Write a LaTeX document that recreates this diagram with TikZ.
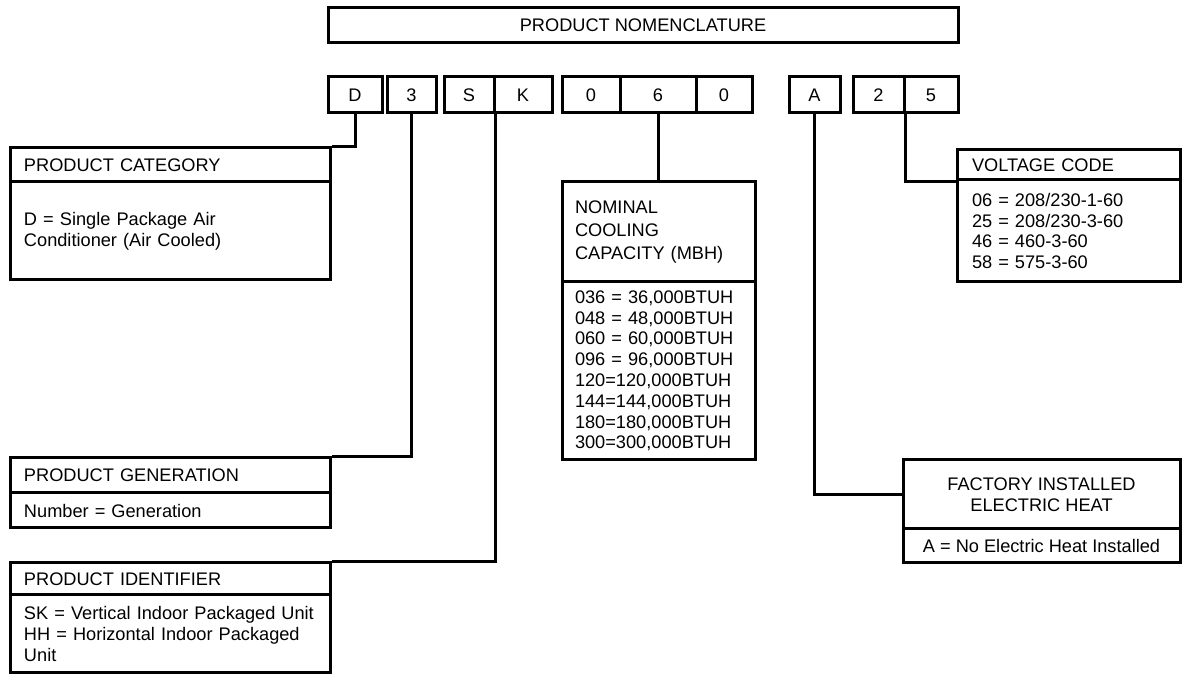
\documentclass[tikz,border=0pt]{standalone}
\usepackage{fontspec}
\setmainfont{Liberation Sans}
\begin{document}
\begin{tikzpicture}[x=0.5pt,y=-0.5pt,line width=1.5pt]
\tikzstyle{every node}=[draw, rectangle, inner sep=0pt, font=\fontsize{9.1}{10.4}\selectfont]
\tikzstyle{digit}=[minimum height=18pt]
\tikzstyle{leftbox}=[align=left]
\useasboundingbox (0,0) rectangle (1185,683);
% title
\draw (643,25.5) node (title) [minimum width=315pt, minimum height=17.5pt] {PRODUCT NOMENCLATURE};
% code letters
\draw (355,95) node (D) [digit, minimum width=27pt] {D};
\draw (411.5,95) node (three) [digit, minimum width=24.5pt] {3};
\draw (469,95) node (S) [digit, minimum width=25pt] {S};
\draw (523,95) node (K) [digit, minimum width=29pt] {K};
\draw (591,95) node (zeroa) [digit, minimum width=29pt] {0};
\draw (658,95) node (six) [digit, minimum width=38pt] {6};
\draw (724,95) node (zerob) [digit, minimum width=28pt] {0};
\draw (814.5,95) node (A) [digit, minimum width=25.5pt] {A};
\draw (878.5,95) node (two) [digit, minimum width=25.5pt] {2};
\draw (931,95) node (five) [digit, minimum width=27pt] {5};
% left column
\draw (170,165) node (catH) [leftbox, inner xsep=7pt, text width=146pt, minimum height=17pt] {PRODUCT CATEGORY};
\draw (170,231) node (catB) [leftbox, inner xsep=7pt, text width=146pt, minimum height=49pt] {D = Single Package Air\\Conditioner (Air Cooled)};
\draw (170,475.5) node (genH) [leftbox, inner xsep=7pt, text width=146pt, minimum height=17.5pt] {PRODUCT GENERATION};
\draw (170,510.5) node (genB) [leftbox, inner xsep=7pt, text width=146pt, minimum height=17.5pt] {Number = Generation};
\draw (170,579) node (idH) [leftbox, inner xsep=7pt, text width=146pt, minimum height=16pt] {PRODUCT IDENTIFIER};
\draw (170,634) node (idB) [leftbox, inner xsep=7pt, text width=146pt, minimum height=39pt] {SK = Vertical Indoor Packaged Unit\\HH = Horizontal Indoor Packaged\\Unit};
% capacity
\draw (658.5,232) node (nomH) [leftbox, inner xsep=6.5pt, text width=83.5pt, minimum height=50pt, font=\fontsize{9.1}{11.5}\selectfont] {NOMINAL\\COOLING\\CAPACITY (MBH)};
\draw (658.5,371) node (nomB) [leftbox, inner xsep=6.5pt, text width=83.5pt, minimum height=89pt] {036 = 36,000BTUH\\048 = 48,000BTUH\\060 = 60,000BTUH\\096 = 96,000BTUH\\120=120,000BTUH\\144=144,000BTUH\\180=180,000BTUH\\300=300,000BTUH};
% right column
\draw (1068.5,165) node (voltH) [leftbox, inner xsep=7.5pt, text width=96.5pt, minimum height=15pt] {VOLTAGE CODE};
\draw (1068.5,231) node (voltB) [leftbox, inner xsep=7.5pt, text width=96.5pt, minimum height=51pt] {06 = 208/230-1-60\\25 = 208/230-3-60\\46 = 460-3-60\\58 = 575-3-60};
\draw (1041.5,494.5) node (heatH) [align=center, minimum width=138.5pt, minimum height=34.5pt] {FACTORY INSTALLED\\ELECTRIC HEAT};
\draw (1041.5,546) node (heatB) [minimum width=138.5pt, minimum height=17pt] {A = No Electric Heat Installed};
% connectors
\draw (D.south) |- (catH.north east);
\draw (three.south) |- (genH.north east);
\draw (S.south east) |- (idH.north east);
\draw (six.south) -- (six.south |- nomH.north);
\draw (A.south) |- (heatH.west);
\draw (two.south east) |- (voltH.south west);
\end{tikzpicture}
\end{document}
